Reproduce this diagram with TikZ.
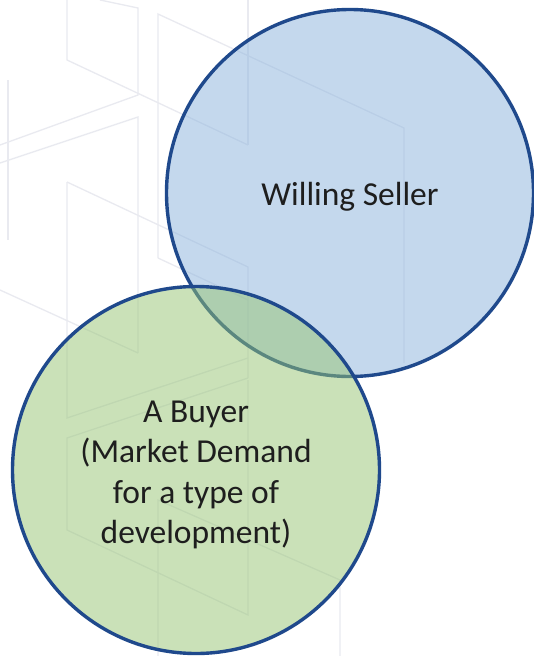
\documentclass[tikz,border=0pt]{standalone}
\usepackage{fontspec}
\setmainfont{Carlito}
\definecolor{bgline}{RGB}{233,234,240}
\definecolor{edgeblue}{RGB}{31,73,140}
\definecolor{sellerfill}{RGB}{139,179,221}
\definecolor{buyerfill}{RGB}{151,197,115}
\definecolor{txt}{RGB}{30,30,30}
\tikzset{
  bg/.style={draw=bgline, line width=1.3pt},
  venn/.style={circle, draw=edgeblue, line width=3.4pt, minimum size=367pt,
    inner sep=0pt, outer sep=0pt, fill opacity=0.5, text opacity=1},
  lbl/.style={text=txt, align=center, font=\fontsize{33.5}{40.5}\selectfont},
}
\begin{document}
\begin{tikzpicture}[x=1pt,y=-1pt]
\useasboundingbox (0,0) rectangle (534,656);
\fill[white] (0,0) rectangle (534,656);
% faint background pattern
\draw[bg] (67,0) -- (67,60) -- (248,145);
\draw[bg] (248,0) -- (248,145);
\draw[bg] (100,0) -- (138,8) -- (138,95) -- (0,145);
\draw[bg] (0,163) -- (138,117) -- (138,353);
\draw[bg] (0,290) -- (138,353);
\draw[bg] (158,258) -- (158,14) -- (404,128) -- (404,363);
\draw[bg] (158,258) -- (248,300);
\draw[bg] (67,182) -- (248,267) -- (248,378);
\draw[bg] (67,182) -- (67,418) -- (248,358);
\draw[bg] (248,378) -- (67,438) -- (67,530) -- (248,615) -- (248,380);
\draw[bg] (158,656) -- (158,500) -- (340,580) -- (340,656);
\draw[bg] (8,80) -- (8,240);
% circles
\node[venn, fill=sellerfill] (seller) at (350,193) {};
\node[venn, fill=buyerfill] (buyer) at (196,470) {};
\node[lbl] (sellertext) at ([yshift=-4pt]seller.center) {Willing Seller};
\node[lbl] (buyertext) at ([yshift=-5pt]buyer.center) {A Buyer\\(Market Demand\\for a type of\\development)};
\end{tikzpicture}
\end{document}
